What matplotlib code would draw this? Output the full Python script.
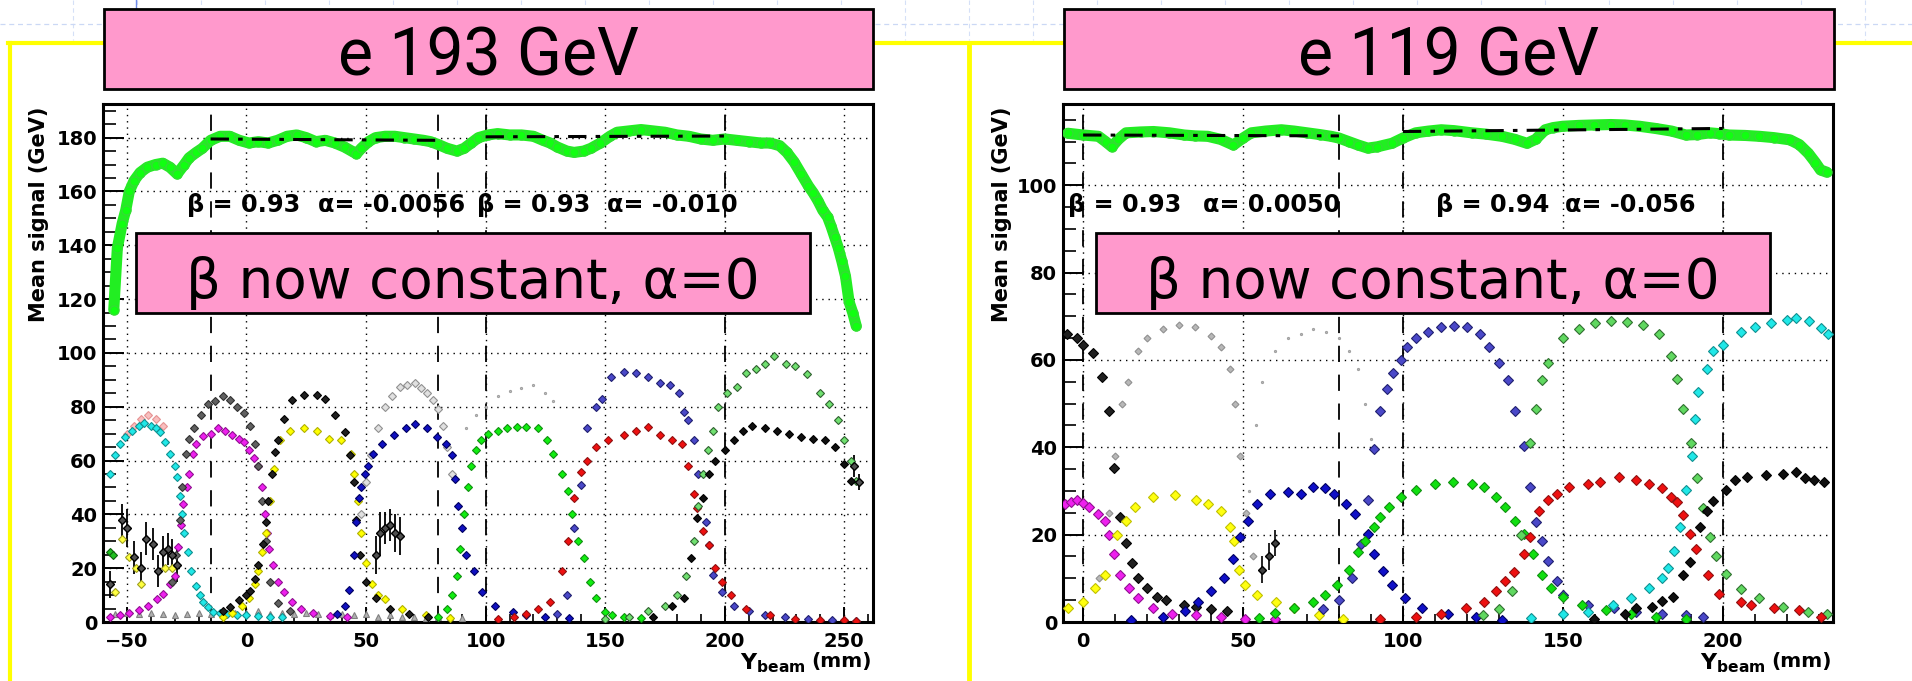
import matplotlib
matplotlib.use("Agg")
import matplotlib.pyplot as plt
from matplotlib.lines import Line2D
from matplotlib.patches import Rectangle
from matplotlib.ticker import MultipleLocator

# ======================= DATA =======================
TITLES = ["e 193 GeV", "e 119 GeV"]
BOX_TEXT = "β now constant, α=0"
Y_LABEL = "Mean signal (GeV)"
X_LABEL_MAIN = r"$\mathbf{Y_{beam}}$"
X_LABEL_UNIT = "(mm)"
L_FIT_LABELS = ["β = 0.93", "α= -0.0056", "β = 0.93", "α= -0.010"]
R_FIT_LABELS = ["β = 0.93", "α= 0.0050", "β = 0.94", "α= -0.056"]

L_XTICKS = [-50, 0, 50, 100, 150, 200, 250]
L_YTICKS = [0, 20, 40, 60, 80, 100, 120, 140, 160, 180]
R_XTICKS = [0, 50, 100, 150, 200]
R_YTICKS = [0, 20, 40, 60, 80, 100]

# ---- left panel (e 193 GeV) ----
L_sum_x = [-55.5, -54, -52, -50.5, -49, -47, -44.5, -41.5, -38, -35, -32, -29, -26, -24, -21,
           -18.5, -15, -11, -7, -3, 1, 5, 9, 13, 17, 21, 25, 29, 33, 37, 41, 44, 46, 48, 51,
           54, 58, 62, 66, 70, 74, 77, 80, 84, 88, 91, 94, 97, 101, 105, 110, 115, 120, 124,
           127, 130, 134, 137, 141, 144, 148, 152, 155, 160, 165, 170, 175, 180, 185, 190,
           195, 200, 205, 210, 215, 219, 223, 226, 229, 232, 235, 237, 239, 241, 243, 244.5,
           246, 247.5, 249, 250.5, 252, 253.5, 255]
L_sum_y = [116, 139, 148, 153, 160, 164, 167, 169, 170, 170.5, 169, 166.5, 170, 172.5, 174.5,
           176, 179, 180.5, 180.5, 179, 178, 178.5, 178, 179, 180.5, 181, 180, 178.5, 179,
           178, 176.5, 175, 174, 176, 178.5, 180, 180.5, 180.5, 180, 179.5, 179, 178.5, 177.5,
           176, 175, 176, 178, 180, 181, 181.5, 181, 181, 180.5, 179, 178, 176.5, 175, 174.5,
           175, 176, 178, 180.5, 182, 182.5, 183, 182.5, 182, 181, 180.5, 179.5, 179, 179.5,
           179, 178.5, 178, 178, 177, 174.5, 171, 166.5, 162, 159.5, 156.5, 153, 150.5, 147,
           143, 139, 134, 128.5, 119, 115, 110]
L_fit1_x = [-15, 80]
L_fit1_y = [179.5, 179.0]
L_fit2_x = [100, 200]
L_fit2_y = [180.3, 180.6]
L_vlines = [-15, 80, 100, 200]

L_cyan_x = [-57, -55, -53, -51, -48, -45, -43, -40, -38, -36, -34, -32, -30, -29, -28, -27,
            -26, -24.5, -23, -21, -19.5, -18, -16, -14, -11, -8, -4, 0, 5, 10, 15]
L_cyan_y = [55, 62, 66, 68.8, 71, 73, 74, 73, 72, 70.6, 67, 62.5, 58, 54, 47, 40, 33, 26,
            19, 13.5, 10, 7.5, 5.5, 3.8, 3.2, 3, 2.5, 2.5, 2.2, 2, 2]
L_pink_x = [-50, -47, -44, -41, -38, -35]
L_pink_y = [70, 73, 75.5, 77, 75.5, 73]
L_mag_x = [-57, -53, -49, -45, -41, -37.5, -35, -32, -30, -28.5, -27.5, -26.5, -25, -24,
           -22.5, -21, -18, -15, -12, -9, -6, -3, -1, 1, 3, 5, 6.4, 7.7, 8.5, 9.5, 11, 13,
           15.5, 19, 23, 28, 35, 42]
L_mag_y = [2, 2.5, 3.5, 4.5, 6, 8.6, 10.5, 14, 17, 28, 36, 44, 50, 55, 62.5, 66, 69, 70, 72,
           71, 69.5, 68, 67, 64, 61, 58, 50, 40, 33, 27, 21, 15, 11, 7.5, 4.8, 3.2, 2.2, 2]
L_dgray_x = [-31, -29.5, -28, -27, -25.5, -24, -22, -19, -16, -13, -10, -7, -4, -1, 1.5,
             3.5, 5, 6.5, 8, 10, 13, 18]
L_dgray_y = [15, 25, 38, 50, 62.5, 68, 72, 77, 81, 82, 84, 82.5, 80, 77.5, 73, 66, 58, 45,
             30, 15, 7, 4]
L_blk1_x = [-10, -7, -3, 0, 1.5, 3.5, 5, 6.7, 8, 9.2, 10.5, 12, 13, 15.5, 19, 24, 29.5, 33,
            37, 41, 43.5, 45, 46, 47.5, 50, 54, 60, 68, 76]
L_blk1_y = [4, 5.5, 8, 10, 11.6, 16, 21, 29, 37, 45, 55, 63, 67.5, 75.6, 82.5, 84.4, 84.4, 83,
            77, 70.6, 62, 52, 38, 25, 15, 9, 5, 3, 2]
L_yel_x = [-10, -6, -2, 1, 3.5, 5, 6.5, 8, 10, 11.5, 14, 18, 24, 29.5, 34.6, 39.7, 43.6, 45,
           46.5, 48, 50, 52.5, 55, 58, 65, 75, 85]
L_yel_y = [2, 3.5, 6, 9, 14, 19, 26, 33, 45, 57, 67.5, 71, 72, 71, 68, 67.5, 62.5, 55, 45, 33,
           22, 14, 10, 8.5, 5, 2.5, 1.5]
L_lgray_x = [48, 50, 52, 55, 58, 61, 64, 67, 70.5, 73, 75.6, 78, 80, 82, 84, 86]
L_lgray_y = [40, 52, 62, 72, 80, 84, 87.5, 88, 88.8, 87, 85, 82.5, 79, 73, 65, 55]
L_blue_x = [38, 41, 43, 45, 46, 47, 48, 49.5, 51, 53, 56.5, 61.5, 66.7, 70.5, 75.6, 79.5, 83.3,
            86, 87, 88.5, 90, 92, 95, 98.7, 104, 111.5, 117, 125, 135]
L_blue_y = [3, 6, 12, 25, 37, 46, 50, 55, 58, 62.5, 66, 69.4, 72, 73.5, 72, 68.8, 66, 62, 53,
            43, 35, 25, 18.8, 11, 6, 3.8, 2.5, 2, 1.5]
L_faint_x = [92, 96, 100, 105, 110, 115, 120, 125, 128]
L_faint_y = [72, 77, 80, 84, 86, 87, 88, 85, 82]
L_grn_x = [80, 84, 86, 88, 89.5, 91, 92.5, 94, 96, 98, 101, 105, 109, 113, 116.7, 121.8,
           125.6, 128, 132, 134.6, 136, 138.5, 141, 143.6, 146, 150, 153, 158, 165]
L_grn_y = [2, 5, 10, 17, 27, 40, 50, 58, 64, 67.5, 70, 71, 72, 72.5, 72.5, 72, 67.5, 62.5, 55,
           48.8, 40, 30, 23.8, 15, 8.8, 3.8, 2.5, 1.8, 1.5]
L_pur_x = [130, 134, 137, 140, 142.3, 146, 148.7, 152.6, 157.7, 162.8, 168, 173, 177, 180.8,
           183, 184.6, 187, 189, 192, 193.6, 195, 199, 204, 210, 217, 225, 235, 245, 255]
L_pur_y = [3, 10, 35, 51, 72, 80, 83, 91, 93, 92.5, 91, 89, 88, 85, 78, 75, 67.5, 55, 37, 28.8,
           17.5, 11, 6, 4, 2.5, 1.8, 1.2, 0.8, 0.5]
L_red_x = [105, 112, 117, 122, 127, 132, 134.6, 137, 139.7, 142.3, 146, 151, 157.7, 162.8,
           168, 173, 178, 182, 184.6, 187, 188.5, 191, 193.6, 196, 199, 202.6, 209, 219,
           229.5, 240, 250, 255]
L_red_y = [1, 2, 3, 5, 7.5, 18.8, 30, 46, 55.6, 60, 65, 67.5, 69.4, 71, 72.5, 69.4, 67.5, 66,
           58, 47.5, 42.5, 33.8, 28.8, 20, 15, 10, 5, 2.5, 1.3, 0.9, 0.6, 0.5]
L_lgrn_x = [150, 160, 168, 175, 180, 184, 187, 189, 191, 193, 195, 197, 201, 205, 209, 213,
            217, 220.5, 225.6, 229.5, 234.6, 240, 243.6, 247.4, 250, 252.6, 255]
L_lgrn_y = [1, 2, 4, 6, 10, 17, 30, 43, 55, 64, 71, 80, 85, 87.5, 92.5, 94, 96, 98.8, 96, 95,
            92, 85, 81, 75, 67.5, 60, 52.5]
L_blk2_x = [170, 178, 183, 186, 188.5, 191, 193.6, 196, 200, 204, 207.7, 211.5, 216.7, 221.8,
            227, 232, 237, 242, 246, 250, 252.6]
L_blk2_y = [2, 6, 8.8, 23.8, 38.8, 46, 55, 60, 63.8, 67.5, 71, 73, 72, 71, 70, 68.8, 68,
            67.5, 65, 58.8, 52.5]
L_base_x = [-55, -50, -45, -40, -35, -30, -25, -20, -15, -10, -5, 0, 5, 10, 15, 20, 25, 30,
            35, 40, 45, 50, 55, 60, 65, 70, 75, 80, 85, 90]
L_base_y = [3, 3.5, 3, 3.5, 3, 2.5, 3, 3.5, 3, 4, 3.5, 3.5, 4, 3, 3.5, 3, 3.5, 3, 2.5, 3, 2.5,
            3, 2, 2.5, 2, 2, 1.5, 2, 2, 1.5]
L_noise_x = [-57, -52, -50, -47, -44, -42, -39, -37, -35, -33, -31, -29, 54, 56, 58, 60, 62,
             64, 254, 256]
L_noise_y = [14, 38, 35, 24, 20, 31, 29, 19, 26, 27, 25, 21, 25, 33, 35, 36, 33, 32, 58, 52]
L_noise_e = [5, 6, 7, 6, 6, 6, 6, 6, 6, 6, 6, 6, 7, 8, 6, 6, 7, 7, 4, 3]
L_ynoise_x = [-55, -52, -49, -46, -44, -34, -31, -57, -56]
L_ynoise_y = [11, 31, 24, 20, 14, 20, 20, 26, 25]

# ---- right panel (e 119 GeV) ----
R_sum_x = [-4.8, 0, 4.8, 7, 9, 11, 13.4, 18, 22, 27, 31.6, 35, 39, 43, 47, 50, 52.6, 57, 62,
           66, 70, 74, 77.5, 80, 83, 86, 89, 92, 96.6, 100, 104, 108, 112, 116, 121.5, 126,
           131, 135, 138.8, 141.5, 144.5, 147, 150, 155, 159.8, 165, 169.4, 174, 179, 184,
           188.5, 192, 196, 199, 202, 207, 211.5, 216, 221, 224, 226.8, 229, 230.6, 232.5]
R_sum_y = [111.9, 111.5, 111.2, 110, 108.8, 110.5, 112, 112.2, 112.3, 112, 111.5, 111.3,
           111.2, 110.5, 109.2, 110.8, 112, 112.4, 112.7, 112.4, 112, 111.6, 111.2, 110.8,
           110, 109.2, 108.5, 108.8, 109.6, 110.8, 112, 112.4, 112.7, 112.5, 112, 111.7,
           111.2, 110.5, 109.6, 110.5, 112.7, 113.2, 113.5, 113.7, 113.8, 113.9, 113.8,
           113.5, 113, 112.4, 111.5, 111.6, 112, 111.8, 111.5, 111.4, 111.2, 110.9, 110.4,
           109.3, 107.3, 105.2, 103.5, 103]
R_fit1_x = [0, 80]
R_fit1_y = [111.5, 111.3]
R_fit2_x = [100, 200]
R_fit2_y = [112.3, 113.0]
R_vlines = [0, 80, 100, 200]

R_blk1_x = [-5, -2, 0, 3, 6, 8, 9.6, 11.5, 13.4, 15.3, 17.2, 20, 23, 26, 31.6, 35.4, 40, 45]
R_blk1_y = [66, 65, 63.5, 61.5, 56, 48.4, 35.2, 24, 18.2, 13.5, 10, 7.7, 5.8, 5, 3.9, 3.5, 3, 2.5]
R_gray1_x = [5, 8, 10, 12, 14, 17, 20, 25, 30, 35, 40, 43, 46, 47.5, 49, 51, 53]
R_gray1_y = [10, 25, 38, 50, 55, 62, 65, 67, 68, 67.5, 65.5, 63, 58, 50, 38, 25, 15]
R_gray2_x = [52, 54, 56, 60, 64, 68, 72, 76, 80, 83, 86, 88, 90]
R_gray2_y = [30, 45, 55, 62, 65, 66, 67, 66.5, 65, 62, 58, 50, 42]
R_mag_x = [-5.7, -3.8, -1.9, 0, 1.9, 4.8, 6.7, 8, 9.6, 11.5, 14.4, 17.2, 22, 27.8, 35.4, 43,
           50.7, 60]
R_mag_y = [27, 27.5, 27.9, 27.3, 26.3, 24.8, 23.2, 20, 15.5, 10.8, 7.7, 5.4, 3.1, 1.9, 1.5,
           1.2, 0.8, 0.6]
R_yel_x = [-4.8, 0, 3.8, 6.7, 10.5, 13.4, 16.3, 22, 28.7, 35.4, 39.2, 43, 46, 47.3, 48.8,
           50.7, 54.5, 60.3, 66, 73.7, 81.3]
R_yel_y = [3.1, 4.6, 7.7, 10.8, 20, 23.2, 26.3, 28.6, 29, 27.9, 27, 25.5, 21.7, 18.6, 12,
           8.5, 6.2, 4.6, 3.1, 1.5, 0.8]
R_blue_x = [15, 25, 32, 36, 40, 44, 47, 49, 51.7, 54.5, 58.4, 64, 68, 71.8, 75.6, 78.5, 82.3,
            85, 89, 91, 93.8, 96.7, 100.5, 106, 114, 123, 131]
R_blue_y = [0.4, 1.2, 2.5, 4.5, 7, 10, 14.5, 19.4, 23.2, 27, 29.4, 29.8, 29.4, 31, 30.6, 29.4,
            27, 24.8, 20.1, 15.5, 11.6, 8.5, 5.4, 3.1, 1.9, 1.2, 0.5]
R_pur_x = [75, 80, 84, 87, 89, 91, 92.8, 95, 97, 99.5, 101.4, 104, 108, 112, 116, 120, 124,
           127, 130, 133, 135, 137.8, 139.7, 141.6, 143.5, 145.5, 148.3, 150, 158, 166, 173,
           181, 188.5, 194]
R_pur_y = [3, 5, 10, 17.8, 27.9, 39.5, 48.4, 53.4, 56.9, 60, 63, 65, 66.5, 67.5, 67.8, 67.5,
           66, 63, 59.2, 55.3, 48.4, 40.2, 31, 22.8, 18.6, 13.9, 9.3, 6.2, 3.9, 3.1, 2.3, 1.9,
           1.5, 1.2]
R_grn_x = [55, 60, 66, 71.8, 75.6, 79.4, 83, 86, 88, 91, 92.8, 95.7, 99.5, 104, 110, 115.8,
           121.5, 125.4, 129, 132, 135, 137.8, 140.7, 143.5, 146.4, 150, 156, 163.6, 171.3,
           179, 188.5]
R_grn_y = [1, 2, 3.1, 4.6, 6.2, 8.5, 12, 16, 18.6, 21.7, 24, 26.3, 28.6, 30.2, 31.7, 32.1,
           31.7, 31, 28.6, 26.3, 23.2, 20.1, 15.5, 10.8, 7.7, 5.8, 3.9, 2.7, 1.9, 1.2, 0.8]
R_lgrn_x = [125, 130, 134, 137, 139.7, 141.6, 143.5, 145.5, 150, 155, 160, 165, 170, 175,
            180, 183.7, 185.6, 187.6, 190, 192, 194, 196, 198, 201, 205.7, 211.5, 219, 226.8,
            232.5]
R_lgrn_y = [1.5, 3, 7, 20, 41, 48.8, 55.3, 59.2, 65, 67, 68.5, 69, 68.8, 68, 66, 60.8, 55.7,
            48.8, 41, 33, 26, 19.4, 15, 11, 7.5, 5.5, 3.5, 2.3, 1.8]
R_red_x = [92.8, 104, 112, 119.6, 125.4, 129, 132, 134.7, 137.8, 139.7, 142.6, 145.5, 148.3,
           152, 158, 161.7, 167.5, 173, 177, 181, 183.7, 185.6, 187.6, 189.7, 191.8, 195.3,
           199, 205.7, 209, 216, 224, 230.6]
R_red_y = [0.8, 1.2, 1.9, 3.1, 4.6, 7, 9.3, 11.5, 15.5, 19.4, 25.5, 27.9, 29.4, 31, 31.7, 32.1,
           33.3, 32.5, 31.7, 30.6, 28.6, 27.5, 24.6, 20.2, 16.8, 10.8, 6.5, 4.6, 3.9, 3.2,
           2.8, 1.1]
R_cyan_x = [140, 150, 158, 165.6, 171.3, 177, 181, 182.9, 184.7, 186.6, 188.5, 190.4, 191.4,
            192.3, 195.2, 197, 200, 205.7, 210, 215, 220, 223, 227, 230.6, 233]
R_cyan_y = [1, 1.9, 2.3, 3.9, 5.4, 7.7, 10, 12.4, 16.3, 21.7, 30.2, 38, 46.4, 52.6, 58, 62,
            63.5, 66.5, 67.5, 68.5, 69.2, 69.6, 69, 67.3, 66]
R_blk2_x = [159.8, 169.4, 173, 178, 181, 184.4, 187.6, 189.7, 192.8, 195, 197, 201, 203.8,
            207.7, 213.4, 219, 223, 225.8, 228.7, 231.6]
R_blk2_y = [0.8, 1.9, 3.1, 3.4, 4.8, 5.7, 10.8, 13.8, 21.8, 25.3, 27.6, 30.3, 32.5, 33.3, 33.7,
            34, 34.4, 32.9, 32.5, 32.1]
R_noise_x = [56, 58, 60]
R_noise_y = [12, 15, 18]
R_noise_e = [3, 3, 3]

# ======================= FIGURE =======================
W, H = 1912, 681
fig = plt.figure(figsize=(W / 100, H / 100), dpi=100)
fig.patch.set_facecolor("white")


def fx(x):
    return x / W


def fy(y):
    return 1 - y / H


def fline(x0, y0, x1, y1, **kw):
    fig.add_artist(Line2D([fx(x0), fx(x1)], [fy(y0), fy(y1)], transform=fig.transFigure, **kw))


# slide template decorations
for k in range(30):
    xv = 73 + 64 * k
    if xv < W:
        fline(xv, 0, xv, 40, color="#d5e0f7", lw=0.8, ls=(0, (4, 3)), zorder=0.2)
fline(0, 24, W, 24, color="#cbd8f5", lw=0.9, ls=(0, (4, 3)), zorder=0.2)
fline(136, 0, 136, 10, color="#6f8ae8", lw=1.0, zorder=0.3)
fline(8, 43, W, 43, color="#ffff00", lw=3.0, zorder=0.5)
fline(10, 43, 10, H, color="#ffff00", lw=3.0, zorder=0.5)
fline(969, 43, 969, H, color="#ffff00", lw=3.5, zorder=0.5)

PANEL_X = [103, 1063]
AX_W, AX_TOP, AX_BOT = 770, 104, 622

tick_font = {"family": "DejaVu Sans", "weight": "bold", "size": 14}


def style_axes(ax, xlim, ylim, xticks, yticks):
    ax.set_xlim(*xlim)
    ax.set_ylim(*ylim)
    ax.set_xticks(xticks)
    ax.set_yticks(yticks)
    ax.xaxis.set_minor_locator(MultipleLocator(10))
    ax.yaxis.set_minor_locator(MultipleLocator(5))
    ax.tick_params(axis="y", which="major", direction="in", length=15, width=1.4, pad=4.3,
                   right=False, left=True)
    ax.tick_params(axis="y", which="minor", direction="in", length=9, width=1.2,
                   right=False, left=True)
    ax.tick_params(axis="x", which="major", direction="in", length=11, width=1.4, pad=7,
                   top=False, bottom=True)
    ax.tick_params(axis="x", which="minor", direction="in", length=6, width=1.2,
                   top=False, bottom=True)
    for lab in ax.get_xticklabels() + ax.get_yticklabels():
        lab.set_fontfamily(tick_font["family"])
        lab.set_fontweight(tick_font["weight"])
        lab.set_fontsize(tick_font["size"])
    for sp in ax.spines.values():
        sp.set_linewidth(2.2)
    ax.grid(True, which="major", color="black", lw=1.0, ls=(0, (1, 3.5)))
    ax.set_axisbelow(True)


def pts(ax, x, y, face, edge, marker="D", ms=4.2, alpha=1.0):
    ax.plot(x, y, ls="none", marker=marker, ms=ms, mfc=face, mec=edge, mew=0.8,
            alpha=alpha, zorder=3)


def draw_sum(ax, x, y):
    ax.plot(x, y, color="#22ee22", lw=8, solid_capstyle="round", solid_joinstyle="round",
            zorder=4)
    ax.plot(x, y, ls="none", marker="o", ms=6.5, mfc="#11ff11", mec="#33dd33", zorder=4)


# ---------------- left panel ----------------
axL = fig.add_axes([fx(PANEL_X[0]), fy(AX_BOT), AX_W / W, (AX_BOT - AX_TOP) / H])
style_axes(axL, (-60, 262), (0, 192.5), L_XTICKS, L_YTICKS)
for xv in L_vlines:
    axL.axvline(xv, color="black", lw=1.3, ls=(0, (9, 7)), zorder=2)

pts(axL, L_base_x, L_base_y, "#b0b0b0", "#808080", marker="^", ms=4)
axL.errorbar(L_noise_x, L_noise_y, yerr=L_noise_e, fmt="D", ms=4, mfc="#505050", mec="black",
             ecolor="black", elinewidth=1.3, capsize=0, zorder=3)
pts(axL, L_ynoise_x[:7], L_ynoise_y[:7], "#ffff40", "#a0a020")
pts(axL, L_ynoise_x[7:], L_ynoise_y[7:], "#20c020", "#106010")
pts(axL, L_pink_x, L_pink_y, "#f7b0b0", "#e08080", alpha=0.8)
pts(axL, L_cyan_x, L_cyan_y, "#20e8e8", "#109090")
pts(axL, L_mag_x, L_mag_y, "#ee20ee", "#901090")
pts(axL, L_dgray_x, L_dgray_y, "#606060", "#303030")
pts(axL, L_yel_x, L_yel_y, "#ffff00", "#b0b000")
pts(axL, L_blk1_x, L_blk1_y, "#202020", "#000000")
pts(axL, L_lgray_x, L_lgray_y, "#e0e0e0", "#909090")
pts(axL, L_blue_x, L_blue_y, "#1010c0", "#000060")
pts(axL, L_faint_x, L_faint_y, "#c8c8c8", "#a0a0a0", marker=".", ms=3)
pts(axL, L_grn_x, L_grn_y, "#10ee10", "#109010")
pts(axL, L_pur_x, L_pur_y, "#4a48c8", "#202070")
pts(axL, L_red_x, L_red_y, "#ee1010", "#901010")
pts(axL, L_lgrn_x, L_lgrn_y, "#70e070", "#306030")
pts(axL, L_blk2_x, L_blk2_y, "#101010", "#000000")

draw_sum(axL, L_sum_x, L_sum_y)
axL.plot(L_fit1_x, L_fit1_y, color="black", lw=2.2, ls=(0, (6, 3, 1.5, 3)), zorder=5)
axL.plot(L_fit2_x, L_fit2_y, color="black", lw=2.2, ls=(0, (6, 3, 1.5, 3)), zorder=5)

# ---------------- right panel ----------------
axR = fig.add_axes([fx(PANEL_X[1]), fy(AX_BOT), AX_W / W, (AX_BOT - AX_TOP) / H])
style_axes(axR, (-6.3, 234.5), (0, 118.6), R_XTICKS, R_YTICKS)
for xv in R_vlines:
    axR.axvline(xv, color="black", lw=1.3, ls=(0, (9, 7)), zorder=2)

pts(axR, R_gray1_x, R_gray1_y, "#b8b8b8", "#909090", ms=3.5)
pts(axR, R_gray2_x, R_gray2_y, "#c0c0c0", "#a0a0a0", marker=".", ms=3)
pts(axR, R_blk1_x, R_blk1_y, "#202020", "#000000", ms=4.6)
pts(axR, R_mag_x, R_mag_y, "#ee20ee", "#901090", ms=4.6)
pts(axR, R_yel_x, R_yel_y, "#ffff10", "#c0c000", ms=4.6)
pts(axR, R_blue_x, R_blue_y, "#1010c8", "#000060", ms=4.6)
pts(axR, R_pur_x, R_pur_y, "#4a48c8", "#202070", ms=4.6)
pts(axR, R_grn_x, R_grn_y, "#10e010", "#109010", ms=4.6)
pts(axR, R_lgrn_x, R_lgrn_y, "#60d860", "#307030", ms=4.6)
pts(axR, R_red_x, R_red_y, "#ee1010", "#901010", ms=4.6)
pts(axR, R_cyan_x, R_cyan_y, "#20e8e8", "#109090", ms=4.6)
pts(axR, R_blk2_x, R_blk2_y, "#101010", "#000000", ms=4.6)
axR.errorbar(R_noise_x, R_noise_y, yerr=R_noise_e, fmt="D", ms=4, mfc="#404040", mec="black",
             ecolor="black", elinewidth=1.2, capsize=0, zorder=3)

draw_sum(axR, R_sum_x, R_sum_y)
axR.plot(R_fit1_x, R_fit1_y, color="black", lw=2.2, ls=(0, (6, 3, 1.5, 3)), zorder=5)
axR.plot(R_fit2_x, R_fit2_y, color="black", lw=2.2, ls=(0, (6, 3, 1.5, 3)), zorder=5)

# ---------------- boxes & text ----------------
PINK = "#ff99cc"


def fbox(x0, y0, x1, y1):
    fig.add_artist(Rectangle((fx(x0), fy(y1)), (x1 - x0) / W, (y1 - y0) / H,
                             transform=fig.transFigure, facecolor=PINK, edgecolor="black",
                             lw=2.0, zorder=6))


title_boxes = [(104, 9, 873, 89), (1064, 9, 1834, 89)]
inner_boxes = [(136, 233, 810, 313), (1096, 233, 1770, 313)]
for i in range(2):
    bx = title_boxes[i]
    fbox(*bx)
    fig.text(fx((bx[0] + bx[2]) / 2), fy(75), TITLES[i], ha="center", va="baseline",
             fontsize=47.5, family=["Roboto", "DejaVu Sans"], color="black", zorder=7)
    ib = inner_boxes[i]
    fbox(*ib)
    fig.text(fx((ib[0] + ib[2]) / 2), fy(298), BOX_TEXT, ha="center", va="baseline",
             fontsize=39.5, family=["DejaVu Sans"], color="black", zorder=7)

fit_label_x = [[187, 318, 477, 607], [1068, 1203, 1436, 1565]]
fit_labels = [L_FIT_LABELS, R_FIT_LABELS]
for i in range(2):
    for xpos, s in zip(fit_label_x[i], fit_labels[i]):
        fig.text(fx(xpos), fy(212), s, ha="left", va="baseline", fontsize=17.3,
                 family=["DejaVu Sans"], weight="bold", color="black", zorder=7)

ylabel_x = [39, 1002]
for xpos in ylabel_x:
    fig.text(fx(xpos), fy(107), Y_LABEL, rotation=90, ha="center", va="top", fontsize=15,
             family=["DejaVu Sans"], weight="bold", zorder=7)

# x-axis titles: "Y_beam" ends just before "(mm)", which ends at the frame's right edge
xlabel_pos = [(806, 872), (1766, 1832)]
for x_main_end, x_unit_end in xlabel_pos:
    fig.text(fx(x_main_end), fy(669), X_LABEL_MAIN, ha="right", va="baseline", fontsize=16,
             zorder=7)
    fig.text(fx(x_unit_end), fy(667), X_LABEL_UNIT, ha="right", va="baseline", fontsize=14.5,
             family=["DejaVu Sans"], weight="bold", zorder=7)

fig.savefig("out.png", dpi=100, facecolor="white")
